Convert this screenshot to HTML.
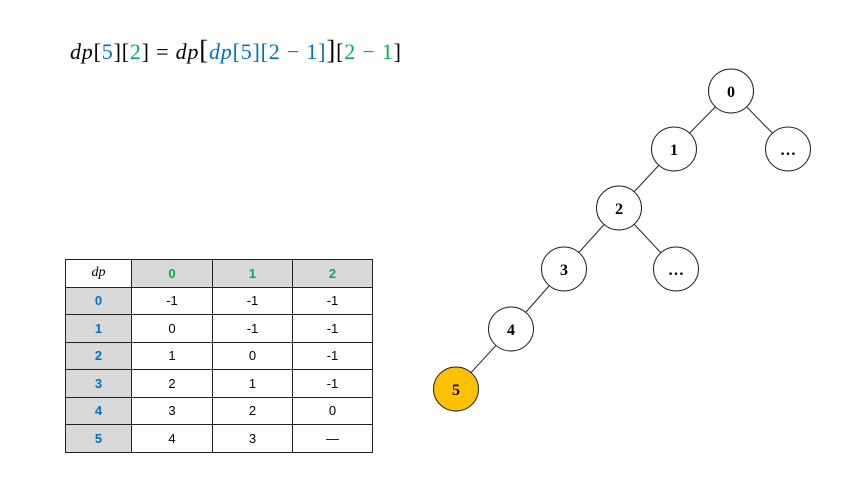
<!DOCTYPE html>
<html><head><meta charset="utf-8"><style>
body{margin:0;width:853px;height:480px;background:#fff;overflow:hidden;position:relative;font-family:"Liberation Sans",sans-serif}
.f{position:absolute;left:70px;top:35px;font-family:"Liberation Serif",serif;font-size:22px;letter-spacing:0.8px;white-space:nowrap;color:#000}
.f i{font-style:italic}
.b{color:#0070C0}.g{color:#00B050}
table{position:absolute;left:65px;top:259px;border-collapse:collapse;font-size:13px}
td{border:1px solid #222;text-align:center;height:26.5px;padding:0}
.h{background:#d9d9d9;font-weight:bold}
</style></head><body>
<div class="f"><i>dp</i>[<span class="b">5</span>][<span class="g">2</span>]&nbsp;=&nbsp;<i>dp</i><span style="font-size:27px">[</span><span class="b"><i>dp</i>[5][2&nbsp;−&nbsp;1]</span><span style="font-size:27px">]</span>[<span class="g">2&nbsp;−&nbsp;1</span>]</div>
<table>
<tr><td style="width:65px;font-family:'Liberation Serif',serif;font-style:italic;font-size:14px">dp</td><td class="h g" style="width:80px">0</td><td class="h g" style="width:79px">1</td><td class="h g" style="width:79px">2</td></tr>
<tr><td class="h b">0</td><td>-1</td><td>-1</td><td>-1</td></tr>
<tr><td class="h b">1</td><td>0</td><td>-1</td><td>-1</td></tr>
<tr><td class="h b">2</td><td>1</td><td>0</td><td>-1</td></tr>
<tr><td class="h b">3</td><td>2</td><td>1</td><td>-1</td></tr>
<tr><td class="h b">4</td><td>3</td><td>2</td><td>0</td></tr>
<tr><td class="h b">5</td><td>4</td><td>3</td><td>—</td></tr>
</table>
<svg width="853" height="480" style="position:absolute;left:0;top:0" font-family="Liberation Serif,serif" font-weight="bold" font-size="16">
<g stroke="#222" stroke-width="1">
<line x1="731" y1="91" x2="674" y2="149"/><line x1="731" y1="91" x2="788" y2="149"/>
<line x1="674" y1="149" x2="619" y2="208"/><line x1="619" y1="208" x2="564" y2="269"/>
<line x1="619" y1="208" x2="676" y2="269"/><line x1="564" y1="269" x2="511" y2="329"/>
<line x1="511" y1="329" x2="456" y2="389"/>
</g>
<g stroke="#222" stroke-width="1" fill="#fff">
<ellipse cx="731" cy="91" rx="22.5" ry="22"/><ellipse cx="674" cy="149" rx="22.5" ry="22"/>
<ellipse cx="788" cy="149" rx="22.5" ry="22"/><ellipse cx="619" cy="208" rx="22.5" ry="22"/>
<ellipse cx="564" cy="269" rx="22.5" ry="22"/><ellipse cx="676" cy="269" rx="22.5" ry="22"/>
<ellipse cx="511" cy="329" rx="22.5" ry="22"/><ellipse cx="456" cy="389" rx="22.5" ry="22" fill="#FFC000"/>
</g>
<g text-anchor="middle">
<text x="731" y="97">0</text><text x="674" y="155">1</text><text x="788" y="155">…</text>
<text x="619" y="214">2</text><text x="564" y="275">3</text><text x="676" y="275">…</text>
<text x="511" y="335">4</text><text x="456" y="395">5</text>
</g>
</svg>
</body></html>
